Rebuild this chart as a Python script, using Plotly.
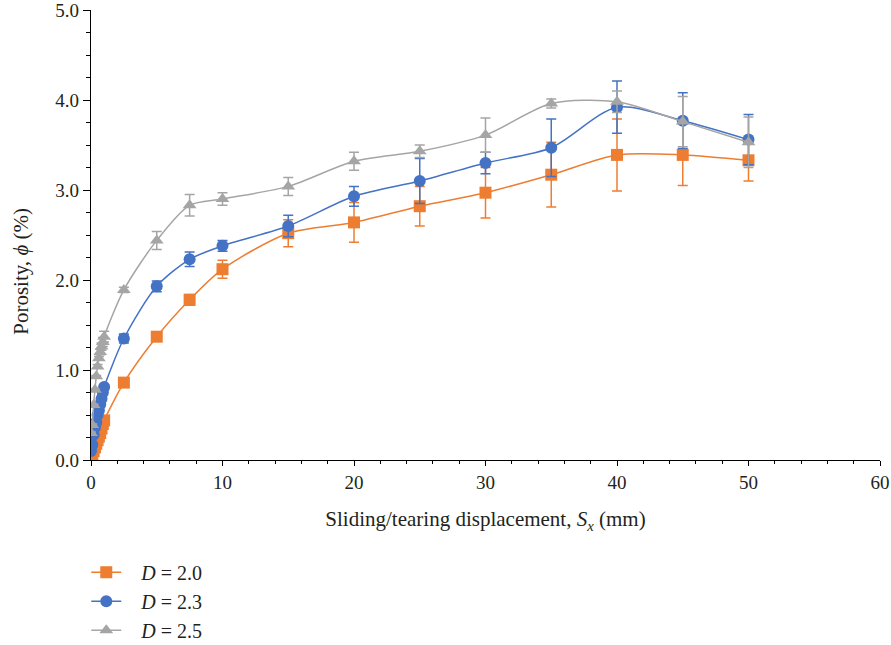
import plotly.graph_objects as go

# Sliding/tearing displacement (mm)
x_vals = [0, 0.1, 0.2, 0.3, 0.4, 0.5, 0.6, 0.7, 0.8, 0.9, 1.0,
          2.5, 5, 7.5, 10, 15, 20, 25, 30, 35, 40, 45, 50]

# Porosity (%) for each fractal dimension
phi_d20 = [0.03, 0.06, 0.10, 0.14, 0.18, 0.22, 0.26, 0.30, 0.35, 0.40, 0.44,
           0.86, 1.37, 1.78, 2.12, 2.52, 2.64, 2.82, 2.97, 3.17, 3.39, 3.39, 3.33]
err_d20 = [0.01, 0.01, 0.01, 0.01, 0.01, 0.01, 0.01, 0.01, 0.01, 0.01, 0.02,
           0.03, 0.04, 0.06, 0.10, 0.15, 0.22, 0.22, 0.28, 0.36, 0.40, 0.34, 0.23]

phi_d23 = [0.10, 0.17, 0.28, 0.36, 0.42, 0.50, 0.55, 0.62, 0.68, 0.75, 0.81,
           1.35, 1.93, 2.23, 2.38, 2.60, 2.93, 3.10, 3.30, 3.47, 3.92, 3.77, 3.56]
err_d23 = [0.01, 0.01, 0.01, 0.01, 0.01, 0.01, 0.01, 0.01, 0.01, 0.02, 0.03,
           0.05, 0.06, 0.08, 0.06, 0.12, 0.11, 0.25, 0.12, 0.32, 0.29, 0.31, 0.28]

phi_d25 = [0.30, 0.39, 0.61, 0.78, 0.93, 1.04, 1.13, 1.20, 1.26, 1.31, 1.37,
           1.89, 2.44, 2.83, 2.90, 3.04, 3.32, 3.43, 3.61, 3.96, 3.98, 3.76, 3.53]
err_d25 = [0.01, 0.01, 0.01, 0.01, 0.01, 0.02, 0.02, 0.03, 0.04, 0.05, 0.06,
           0.03, 0.10, 0.12, 0.07, 0.10, 0.10, 0.07, 0.19, 0.05, 0.12, 0.28, 0.28]

series = [
    ("\u00a0\u00a0\u00a0<i>D</i> = 2.0", phi_d20, err_d20, "#ED7D31", "square"),
    ("\u00a0\u00a0\u00a0<i>D</i> = 2.3", phi_d23, err_d23, "#4472C4", "circle"),
    ("\u00a0\u00a0\u00a0<i>D</i> = 2.5", phi_d25, err_d25, "#A5A5A5", "triangle-up"),
]

FONT = "Liberation Serif, Times New Roman, serif"
TXT = "#231F20"

fig = go.Figure()
for i, (name, y, e, col, sym) in enumerate(series):
    fig.add_trace(go.Scatter(
        x=x_vals, y=y, name=name, mode="lines+markers",
        legendgroup=f"g{i}",
        line=dict(color=col, width=1.5, shape="spline", smoothing=0.8),
        marker=dict(color=col, symbol=sym, size=12),
        error_y=dict(type="data", array=e, visible=True, color=col,
                     thickness=1.5, width=5),
    ))

fig.add_annotation(
    text="Porosity, <i>ϕ</i> (%)", textangle=-90,
    xref="paper", yref="paper", x=-0.089, y=0.42,
    xanchor="center", yanchor="middle", showarrow=False,
    font=dict(family=FONT, size=21, color=TXT),
)

fig.update_layout(
    width=891, height=645,
    margin=dict(l=91, r=11, t=10, b=185, autoexpand=False),
    paper_bgcolor="white", plot_bgcolor="white",
    font=dict(family=FONT, size=19, color=TXT),
    showlegend=True,
    legend=dict(x=-0.006, xanchor="left", yref="container", y=0.143, yanchor="top",
                orientation="v", tracegroupgap=0, itemwidth=30,
                font=dict(family=FONT, size=20, color=TXT)),
    xaxis=dict(range=[0, 60], dtick=10, tick0=0, showgrid=False, zeroline=False,
               automargin=False,
               showline=True, linecolor="black", linewidth=1.2,
               ticks="outside", ticklen=5, tickcolor="black",
               minor=dict(dtick=2, ticks="outside", ticklen=3, tickcolor="black"),
               title=dict(text="Sliding/tearing displacement, <i>S<sub>x</sub></i> (mm)",
                          font=dict(size=21), standoff=19),
               tickfont=dict(size=19)),
    yaxis=dict(range=[0, 5], dtick=1, tick0=0, tickformat=".1f", showgrid=False,
               automargin=False, ticklabeloverflow="allow",
               zeroline=False, showline=True, linecolor="black", linewidth=1.2,
               ticks="outside", ticklen=7, tickcolor="black",
               minor=dict(dtick=0.25, ticks="outside", ticklen=4, tickcolor="black"),
               tickfont=dict(size=19)),
)

fig.write_html("out.html")
